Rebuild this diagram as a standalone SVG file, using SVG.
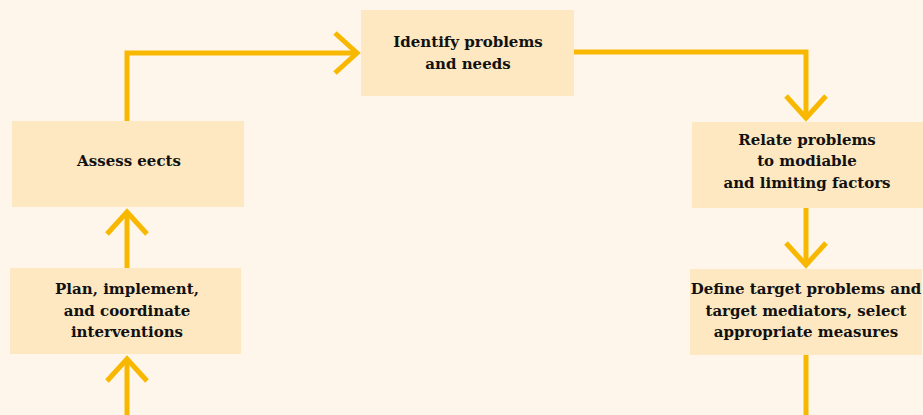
<svg xmlns="http://www.w3.org/2000/svg" width="923" height="415" viewBox="0 0 923 415">
<style>
.box{fill:#FDE8C1;}
.t{font-family:"DejaVu Serif","Liberation Serif",serif;font-weight:bold;font-size:15px;fill:#111111;text-anchor:middle;}
.c{fill:none;stroke:#F8B800;stroke-width:5;stroke-linejoin:miter;stroke-linecap:butt;}
</style>
<rect width="923" height="415" fill="#FEF6EA"/>
<g id="connectors">
<path class="c" d="M127,121 V53 H356"/>
<path class="c" d="M335,33 L357,53 L335,73"/>
<path class="c" d="M574,52 H806 V118"/>
<path class="c" d="M786,96 L806,118 L826,96"/>
<path class="c" d="M806,208 V265"/>
<path class="c" d="M786,243 L806,265 L826,243"/>
<path class="c" d="M806,355 V415"/>
<path class="c" d="M127,268 V212"/>
<path class="c" d="M107,234 L127,212 L147,234"/>
<path class="c" d="M127,415 V359"/>
<path class="c" d="M107,381 L127,359 L147,381"/>
</g>
<g id="identify">
<rect class="box" x="361" y="10" width="213" height="86"/>
<text class="t" x="468" y="47">Identify problems</text>
<text class="t" x="468" y="69">and needs</text>
</g>
<g id="assess">
<rect class="box" x="12" y="121" width="232" height="86"/>
<text class="t" x="129" y="166">Assess eects</text>
</g>
<g id="relate">
<rect class="box" x="692" y="122" width="231" height="86"/>
<text class="t" x="807" y="145">Relate problems</text>
<text class="t" x="807" y="166">to modiable</text>
<text class="t" x="807" y="188">and limiting factors</text>
</g>
<g id="plan">
<rect class="box" x="10" y="268" width="231" height="86"/>
<text class="t" x="127" y="294">Plan, implement,</text>
<text class="t" x="127" y="316">and coordinate</text>
<text class="t" x="127" y="337">interventions</text>
</g>
<g id="define">
<rect class="box" x="690" y="269" width="232" height="86"/>
<text class="t" x="806" y="294">Define target problems and</text>
<text class="t" x="806" y="316">target mediators, select</text>
<text class="t" x="806" y="337">appropriate measures</text>
</g>
</svg>
